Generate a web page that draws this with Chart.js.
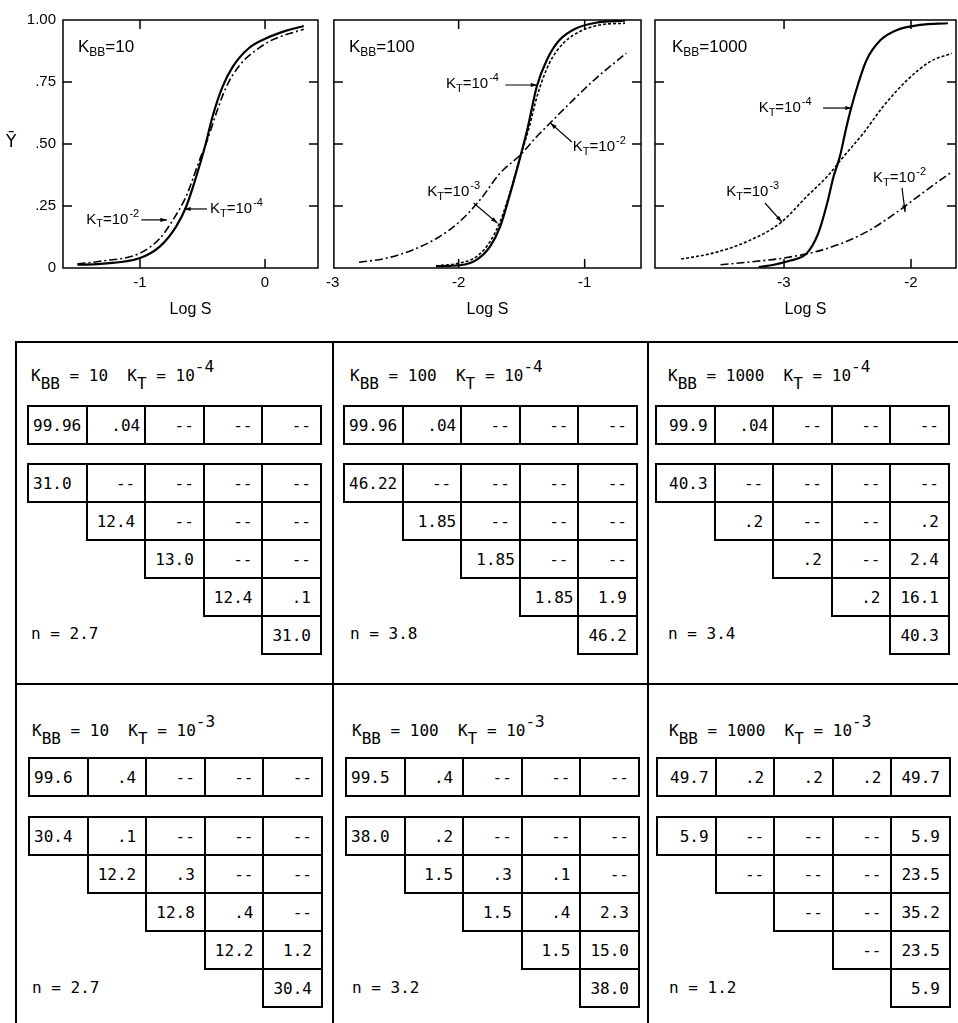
<!DOCTYPE html>
<html>
<head>
<meta charset="utf-8">
<script src="https://cdn.jsdelivr.net/npm/chart.js@4.4.0/dist/chart.umd.min.js"></script>
<style>
body{margin:0;background:#fff;width:958px;height:1023px;position:relative;overflow:hidden;font-family:"Liberation Sans",Arial,sans-serif;color:#000;}
canvas{position:absolute;top:0;}
.ln{position:absolute;background:#000;}
.cell{position:absolute;box-sizing:border-box;border:2px solid #000;display:flex;align-items:center;justify-content:flex-end;padding-right:9px;font:16px "DejaVu Sans Mono",monospace;white-space:pre;}
.ttl,.nn{position:absolute;font:16px "DejaVu Sans Mono",monospace;white-space:pre;height:20px;line-height:20px;}
.ttl span{position:relative;}
</style>
</head>
<body>
<canvas id="c1" width="330" height="330" style="left:0"></canvas>
<canvas id="c2" width="330" height="330" style="left:320px"></canvas>
<canvas id="c3" width="316" height="330" style="left:642px"></canvas>
<div style="position:absolute;left:6px;top:131px;font:17px 'DejaVu Sans',sans-serif;">Ȳ</div>
<div id="tables"></div>
<script>
// axes
var yTicks = [0, 0.25, 0.5, 0.75, 1];
var yLabels = ['0', '.25', '.50', '.75', '1.00'];
var xTicks1 = [-1, 0];
var xTicks2 = [-3, -2, -1];
var xTicks3 = [-3, -2];

// K_BB = 10
var p1SolidX = [-1.50, -1.32, -1.00, -0.84, -0.71, -0.63, -0.55, -0.48, -0.42, -0.34, -0.26, -0.13, 0.01, 0.17, 0.31];
var p1SolidY = [0.013, 0.017, 0.04, 0.087, 0.168, 0.248, 0.369, 0.49, 0.61, 0.73, 0.81, 0.886, 0.926, 0.957, 0.976];
var p1DashX = [-1.50, -1.32, -1.00, -0.84, -0.735, -0.63, -0.52, -0.46, -0.39, -0.31, -0.20, -0.07, 0.06, 0.31];
var p1DashY = [0.017, 0.027, 0.06, 0.12, 0.195, 0.29, 0.44, 0.517, 0.624, 0.73, 0.819, 0.879, 0.92, 0.963];

// K_BB = 100
var p2SolidX = [-2.18, -1.99, -1.855, -1.75, -1.67, -1.59, -1.51, -1.45, -1.38, -1.30, -1.20, -1.07, -0.91, -0.68];
var p2SolidY = [0.007, 0.011, 0.034, 0.087, 0.168, 0.302, 0.45, 0.57, 0.732, 0.839, 0.919, 0.966, 0.989, 0.997];
var p2DotX = [-2.18, -1.99, -1.855, -1.75, -1.67, -1.59, -1.51, -1.45, -1.37, -1.28, -1.17, -1.04, -0.88, -0.68];
var p2DotY = [0.009, 0.02, 0.047, 0.107, 0.188, 0.309, 0.45, 0.55, 0.705, 0.826, 0.906, 0.953, 0.98, 0.987];
var p2DashX = [-2.79, -2.57, -2.36, -2.17, -1.99, -1.83, -1.67, -1.51, -1.38, -1.25, -1.09, -0.91, -0.67];
var p2DashY = [0.023, 0.04, 0.074, 0.121, 0.188, 0.275, 0.383, 0.456, 0.53, 0.597, 0.678, 0.765, 0.866];

// K_BB = 1000
var p3SolidX = [-3.20, -3.08, -2.95, -2.82, -2.73, -2.66, -2.61, -2.56, -2.51, -2.47, -2.415, -2.35, -2.24, -2.11, -1.93, -1.71];
var p3SolidY = [0.004, 0.013, 0.03, 0.06, 0.141, 0.262, 0.369, 0.45, 0.566, 0.648, 0.745, 0.839, 0.919, 0.96, 0.98, 0.987];
var p3DotX = [-3.81, -3.56, -3.29, -3.03, -2.82, -2.66, -2.53, -2.375, -2.22, -2.03, -1.85, -1.68];
var p3DotY = [0.036, 0.06, 0.107, 0.181, 0.289, 0.369, 0.45, 0.544, 0.651, 0.758, 0.832, 0.866];
var p3DashX = [-3.50, -3.215, -3.005, -2.74, -2.51, -2.32, -2.14, -1.98, -1.82, -1.69];
var p3DashY = [0.013, 0.027, 0.04, 0.067, 0.107, 0.154, 0.215, 0.275, 0.336, 0.383];

// tables
var kbbValues = ['10', '100', '1000', '10', '100', '1000'];
var ktExps = ['-4', '-4', '-4', '-3', '-3', '-3'];
var nValues = ['2.7', '3.8', '3.4', '2.7', '3.2', '1.2'];
var firstRows = [
  ['99.96', '.04', '--', '--', '--'],
  ['99.96', '.04', '--', '--', '--'],
  ['99.9', '.04', '--', '--', '--'],
  ['99.6', '.4', '--', '--', '--'],
  ['99.5', '.4', '--', '--', '--'],
  ['49.7', '.2', '.2', '.2', '49.7']
];
var stairRows = [
  [['31.0', '--', '--', '--', '--'], ['12.4', '--', '--', '--'], ['13.0', '--', '--'], ['12.4', '.1'], ['31.0']],
  [['46.22', '--', '--', '--', '--'], ['1.85', '--', '--', '--'], ['1.85', '--', '--'], ['1.85', '1.9'], ['46.2']],
  [['40.3', '--', '--', '--', '--'], ['.2', '--', '--', '.2'], ['.2', '--', '2.4'], ['.2', '16.1'], ['40.3']],
  [['30.4', '.1', '--', '--', '--'], ['12.2', '.3', '--', '--'], ['12.8', '.4', '--'], ['12.2', '1.2'], ['30.4']],
  [['38.0', '.2', '--', '--', '--'], ['1.5', '.3', '.1', '--'], ['1.5', '.4', '2.3'], ['1.5', '15.0'], ['38.0']],
  [['5.9', '--', '--', '--', '5.9'], ['--', '--', '--', '23.5'], ['--', '--', '35.2'], ['--', '23.5'], ['5.9']]
];

var FONT = '"Liberation Sans", Arial, sans-serif';

function pts(xs, ys) {
  return xs.map(function (x, i) { return {x: x, y: ys[i]}; });
}
function line(data, style) {
  var ds = {data: data, borderColor: '#000', pointRadius: 0, fill: false, cubicInterpolationMode: 'monotone', borderWidth: 1.6};
  if (style === 'solid') ds.borderWidth = 2.2;
  if (style === 'dash') ds.borderDash = [8, 3, 2, 3];
  if (style === 'dot') ds.borderDash = [3, 2];
  return ds;
}

function notesPlugin(notes) {
  return {
    id: 'notes',
    afterDraw: function (chart) {
      var ctx = chart.ctx, a = chart.chartArea, sx = chart.scales.x, sy = chart.scales.y;
      ctx.save();
      ctx.strokeStyle = '#000';
      ctx.fillStyle = '#000';
      // frame + inward ticks
      ctx.lineWidth = 1.5;
      ctx.strokeRect(a.left, a.top, a.width, a.height);
      ctx.beginPath();
      sx.ticks.forEach(function (t) {
        var px = sx.getPixelForValue(t.value);
        if (px < a.left + 2 || px > a.right - 2) return;
        ctx.moveTo(px, a.bottom); ctx.lineTo(px, a.bottom - 9);
        ctx.moveTo(px, a.top); ctx.lineTo(px, a.top + 9);
      });
      sy.ticks.forEach(function (t) {
        var py = sy.getPixelForValue(t.value);
        if (py < a.top + 2 || py > a.bottom - 2) return;
        ctx.moveTo(a.left, py); ctx.lineTo(a.left + 9, py);
        ctx.moveTo(a.right, py); ctx.lineTo(a.right - 9, py);
      });
      ctx.stroke();
      // labels
      notes.forEach(function (n) {
        var px = sx.getPixelForValue(n.x), py = sy.getPixelForValue(n.y);
        var size = n.kbb ? 17 : 15;
        ctx.font = size + 'px ' + FONT;
        ctx.textBaseline = 'middle';
        var x = px;
        ctx.fillText('K', x, py); x += ctx.measureText('K').width;
        var sub = n.kbb ? 'BB' : 'T';
        ctx.font = Math.round(size * 0.72) + 'px ' + FONT;
        ctx.fillText(sub, x, py + size * 0.3); x += ctx.measureText(sub).width;
        ctx.font = size + 'px ' + FONT;
        var rest = n.kbb ? '=' + n.kbb : '=10';
        ctx.fillText(rest, x, py); x += ctx.measureText(rest).width;
        if (n.sup) {
          ctx.font = Math.round(size * 0.72) + 'px ' + FONT;
          ctx.fillText(n.sup, x + 1, py - size * 0.38);
        }
        if (n.arrow) {
          var x1 = sx.getPixelForValue(n.arrow[0]), y1 = sy.getPixelForValue(n.arrow[1]);
          var x2 = sx.getPixelForValue(n.arrow[2]), y2 = sy.getPixelForValue(n.arrow[3]);
          ctx.lineWidth = 1.2;
          ctx.beginPath(); ctx.moveTo(x1, y1); ctx.lineTo(x2, y2); ctx.stroke();
          var ang = Math.atan2(y2 - y1, x2 - x1);
          ctx.beginPath();
          ctx.moveTo(x2, y2);
          ctx.lineTo(x2 - 7 * Math.cos(ang - 0.3), y2 - 7 * Math.sin(ang - 0.3));
          ctx.lineTo(x2 - 7 * Math.cos(ang + 0.3), y2 - 7 * Math.sin(ang + 0.3));
          ctx.closePath(); ctx.fill();
        }
      });
      ctx.restore();
    }
  };
}

function makeChart(id, xMin, xMax, xTicks, showY, yWidth, padRight, datasets, notes) {
  return new Chart(document.getElementById(id), {
    type: 'line',
    data: {datasets: datasets},
    options: {
      responsive: false,
      animation: false,
      devicePixelRatio: 1,
      layout: {padding: {top: 20, right: padRight, left: 0, bottom: 0}},
      plugins: {legend: {display: false}, tooltip: {enabled: false}},
      scales: {
        x: {
          type: 'linear', min: xMin, max: xMax,
          afterBuildTicks: function (ax) { ax.ticks = xTicks.map(function (v) { return {value: v}; }); },
          afterFit: function (ax) { ax.height = 62; },
          grid: {display: false, drawTicks: false},
          border: {display: false},
          ticks: {padding: 6, color: '#000', font: {family: FONT, size: 15}, maxRotation: 0,
            callback: function (v) { return String(v); }},
          title: {display: true, text: 'Log S', color: '#000', font: {family: FONT, size: 16}, padding: {top: 0, bottom: 11}}
        },
        y: {
          min: 0, max: 1,
          afterBuildTicks: function (ax) { ax.ticks = yTicks.map(function (v) { return {value: v}; }); },
          afterFit: function (ax) { ax.width = yWidth; },
          grid: {display: false, drawTicks: false},
          border: {display: false},
          ticks: {display: showY, padding: 7, color: '#000', font: {family: FONT, size: 15},
            callback: function (v, i) { return yLabels[i]; }}
        }
      }
    },
    plugins: [notesPlugin(notes)]
  });
}

makeChart('c1', -1.616, 0.424, xTicks1, true, 63, 12, [
  line(pts(p1SolidX, p1SolidY), 'solid'),
  line(pts(p1DashX, p1DashY), 'dash')
], [
  {x: -1.496, y: 0.89, kbb: '10'},
  {x: -1.43, y: 0.194, sup: '-2', arrow: [-0.99, 0.194, -0.784, 0.194]},
  {x: -0.44, y: 0.238, sup: '-4', arrow: [-0.464, 0.238, -0.648, 0.238]}
]);

makeChart('c2', -2.99, -0.553, xTicks2, false, 13, 9, [
  line(pts(p2SolidX, p2SolidY), 'solid'),
  line(pts(p2DotX, p2DotY), 'dot'),
  line(pts(p2DashX, p2DashY), 'dash')
], [
  {x: -2.87, y: 0.89, kbb: '100'},
  {x: -2.1, y: 0.742, sup: '-4', arrow: [-1.63, 0.738, -1.375, 0.738]},
  {x: -1.094, y: 0.488, sup: '-2', arrow: [-1.102, 0.508, -1.273, 0.585]},
  {x: -2.25, y: 0.306, sup: '-3', arrow: [-1.881, 0.262, -1.692, 0.181]}
]);

makeChart('c3', -4.016, -1.646, xTicks3, false, 13, 2, [
  line(pts(p3SolidX, p3SolidY), 'solid'),
  line(pts(p3DotX, p3DotY), 'dot'),
  line(pts(p3DashX, p3DashY), 'dash')
], [
  {x: -3.882, y: 0.89, kbb: '1000'},
  {x: -3.2, y: 0.645, sup: '-4', arrow: [-2.693, 0.645, -2.465, 0.645]},
  {x: -3.455, y: 0.306, sup: '-3', arrow: [-3.15, 0.262, -3.016, 0.185]},
  {x: -2.299, y: 0.363, sup: '-2', arrow: [-2.071, 0.323, -2.047, 0.226]}
]);

// ---- tables below the plots ----
var host = document.getElementById('tables');
function el(cls, left, top, w, h) {
  var d = document.createElement('div');
  d.className = cls;
  d.style.left = left + 'px'; d.style.top = top + 'px';
  if (w) d.style.width = w + 'px';
  if (h) d.style.height = h + 'px';
  host.appendChild(d);
  return d;
}
// frame lines
el('ln', 15, 341, 943, 2);
el('ln', 15, 683, 943, 2);
el('ln', 15, 341, 2, 682);
el('ln', 332, 341, 2, 682);
el('ln', 647, 341, 2, 682);

var gridLeft = [[27, 343, 655], [28, 345, 656]];
var titleY = [376, 731];
var box1Y = [405, 757];
var stairY = [463, 816];
var nY = [634, 988];
var titleOff = [4, 7, 13];
var CW = 58.6, CH = 38;

function addCell(left, top, text, col, c) {
  var d = el('cell', left + col * CW, top, CW + 2, CH + 2);
  d.textContent = text;
  if (col === 0 && c < 2) { d.style.justifyContent = 'flex-start'; d.style.paddingLeft = '4px'; d.style.paddingRight = '0'; }
  else if (/\.\d\d$/.test(text)) d.style.paddingRight = '4px';
  else if (col === 0) d.style.paddingRight = '6px';
}

for (var p = 0; p < 6; p++) {
  var r = Math.floor(p / 3), c = p % 3;
  var gl = gridLeft[r][c];
  var t = el('ttl', gl + titleOff[c], titleY[r] - 10);
  t.innerHTML = 'K<span style="top:8px">BB</span> = ' + kbbValues[p] + '  K<span style="top:8px">T</span> = 10<span style="top:-9px">' + ktExps[p] + '</span>';
  for (var i = 0; i < 5; i++) addCell(gl, box1Y[r], firstRows[p][i], i, c);
  stairRows[p].forEach(function (row, ri) {
    row.forEach(function (v, k) { addCell(gl, stairY[r] + ri * CH, v, ri + k, c); });
  });
  var n = el('nn', gl + titleOff[c], nY[r] - 10);
  n.textContent = 'n = ' + nValues[p];
}
</script>
</body>
</html>
